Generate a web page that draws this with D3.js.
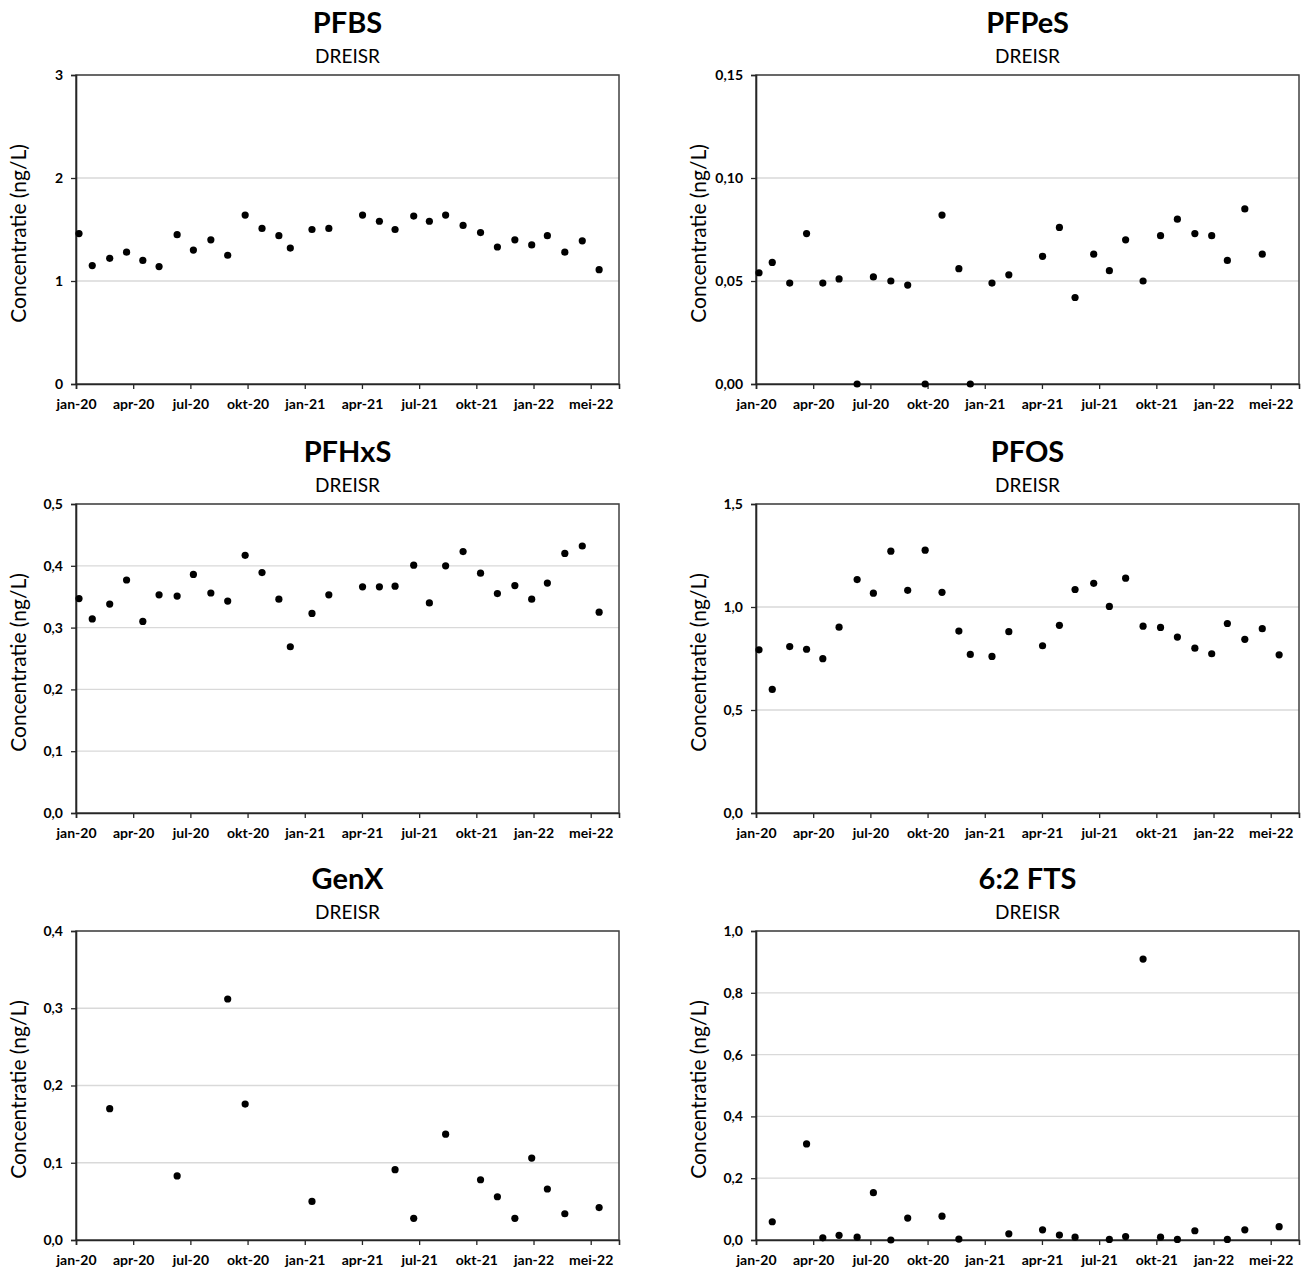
<!DOCTYPE html>
<html>
<head>
<meta charset="utf-8">
<script src="https://cdn.jsdelivr.net/npm/d3@7"></script>
<style>
  html, body { margin: 0; padding: 0; background: #fff; }
  svg { display: block; }
  text { font-family: Lato, "Open Sans", "Noto Sans", sans-serif; fill: #000; }
</style>
</head>
<body>
<svg id="chart" width="1304" height="1268"></svg>
<script>
// ---- Data ----
const sampleDates = [
  "2020-01-06","2020-01-28","2020-02-26","2020-03-25","2020-04-21","2020-05-18",
  "2020-06-17","2020-07-14","2020-08-12","2020-09-09","2020-10-08","2020-11-05",
  "2020-12-03","2020-12-22","2021-01-27","2021-02-24","2021-04-21","2021-05-19",
  "2021-06-14","2021-07-15","2021-08-10","2021-09-06","2021-10-05","2021-11-03",
  "2021-12-01","2021-12-30","2022-01-27","2022-02-22","2022-03-23","2022-04-21",
  "2022-05-19"
];

const pfbs = [1.46,1.15,1.22,1.28,1.20,1.14,1.45,1.30,1.40,1.25,1.64,1.51,1.44,1.32,1.50,1.51,
              1.64,1.58,1.50,1.63,1.58,1.64,1.54,1.47,1.33,1.40,1.35,1.44,1.28,1.39,1.11];
const pfpes = [0.054,0.059,0.049,0.073,0.049,0.051,0.000,0.052,0.050,0.048,0.000,0.082,0.056,0.000,0.049,0.053,
               0.062,0.076,0.042,0.063,0.055,0.070,0.050,0.072,0.080,0.073,0.072,0.060,0.085,0.063,null];
const pfhxs = [0.347,0.314,0.338,0.377,0.310,0.353,0.351,0.386,0.356,0.343,0.417,0.389,0.346,0.269,0.323,0.353,
               0.366,0.366,0.367,0.401,0.340,0.400,0.423,0.388,0.355,0.368,0.346,0.372,0.420,0.432,0.325];
const pfos = [0.792,0.600,0.808,0.795,0.749,0.902,1.133,1.067,1.271,1.081,1.276,1.071,0.883,0.770,0.760,0.880,
              0.812,0.911,1.085,1.115,1.003,1.140,0.907,0.901,0.854,0.800,0.773,0.920,0.843,0.895,0.768];
const genx = [null,null,0.170,null,null,null,0.083,null,null,0.312,0.176,null,null,null,0.050,null,
              null,null,0.091,0.028,null,0.137,null,0.078,0.056,0.028,0.106,0.066,0.034,null,0.042];
const fts62 = [null,0.059,null,0.311,0.007,0.015,0.009,0.153,0.000,0.071,null,0.077,0.003,null,null,0.020,
               0.033,0.016,0.009,null,0.002,0.011,0.909,0.009,0.002,0.030,null,0.002,0.033,null,0.043];

const xTickLabels = ["jan-20","apr-20","jul-20","okt-20","jan-21","apr-21","jul-21","okt-21","jan-22","mei-22"];
const xAxisStart = "2020-01-01";
const xTickStepDays = 95;
const xAxisSpanDays = 902;

const yTicksPFBS  = [0, 1, 2, 3];
const yTicksPFPeS = [0, 0.05, 0.10, 0.15];
const yTicksPFHxS = [0, 0.1, 0.2, 0.3, 0.4, 0.5];
const yTicksPFOS  = [0, 0.5, 1.0, 1.5];
const yTicksGenX  = [0, 0.1, 0.2, 0.3, 0.4];
const yTicks62FTS = [0, 0.2, 0.4, 0.6, 0.8, 1.0];

const titles = ["PFBS", "PFPeS", "PFHxS", "PFOS", "GenX", "6:2 FTS"];
const subtitle = "DREISR";
const yLabel = "Concentratie (ng/L)";

// ---- Layout ----
const panels = [
  { title: titles[0], values: pfbs,  yTicks: yTicksPFBS,  dec: 0 },
  { title: titles[1], values: pfpes, yTicks: yTicksPFPeS, dec: 2 },
  { title: titles[2], values: pfhxs, yTicks: yTicksPFHxS, dec: 1 },
  { title: titles[3], values: pfos,  yTicks: yTicksPFOS,  dec: 1 },
  { title: titles[4], values: genx,  yTicks: yTicksGenX,  dec: 1 },
  { title: titles[5], values: fts62, yTicks: yTicks62FTS, dec: 1 }
];

const colLeft = [76, 756];
const rowTop = [75, 504, 931];
const plotW = 543, plotH = 309;

const parse = d3.timeParse("%Y-%m-%d");
const start = parse(xAxisStart);
const end = d3.timeDay.offset(start, xAxisSpanDays);
const tickDates = xTickLabels.map((_, i) => d3.timeDay.offset(start, i * xTickStepDays));
const dates = sampleDates.map(parse);

const nl = d3.formatLocale({ decimal: ",", thousands: ".", grouping: [3], currency: ["€", ""] });

const svg = d3.select("#chart");
svg.append("rect").attr("width", 1304).attr("height", 1268).attr("fill", "#fff");

panels.forEach((p, i) => {
  const col = i % 2, row = Math.floor(i / 2);
  const left = colLeft[col], top = rowTop[row];
  const g = svg.append("g").attr("transform", `translate(${left},${top})`);

  const x = d3.scaleTime().domain([start, end]).range([0, plotW]);
  const y = d3.scaleLinear().domain([0, d3.max(p.yTicks)]).range([plotH, 0]);
  const fmt = nl.format(`.${p.dec}f`);

  // gridlines
  g.append("g").selectAll("line").data(p.yTicks.filter(t => t > 0))
    .join("line")
    .attr("x1", 0).attr("x2", plotW)
    .attr("y1", d => y(d)).attr("y2", d => y(d))
    .attr("stroke", "#d9d9d9").attr("stroke-width", 1.3);

  // frame
  g.append("rect").attr("x", 0).attr("y", 0).attr("width", plotW).attr("height", plotH)
    .attr("fill", "none").attr("stroke", "#404040").attr("stroke-width", 1.5);

  // y axis
  const yAxis = d3.axisLeft(y).tickValues(p.yTicks).tickFormat(fmt).tickSize(5).tickPadding(8);
  const ya = g.append("g").call(yAxis);
  ya.select(".domain").attr("stroke", "#262626").attr("stroke-width", 1.6);
  ya.selectAll(".tick line").attr("stroke", "#262626").attr("stroke-width", 1.3);
  ya.selectAll(".tick text").attr("font-size", 14).attr("font-weight", 700)
    .attr("font-family", "Lato, 'Open Sans', sans-serif").attr("fill", "#000");

  // x axis
  const xAxis = d3.axisBottom(x).tickValues(tickDates)
    .tickFormat((d, k) => xTickLabels[k]).tickSize(5).tickPadding(10);
  const xa = g.append("g").attr("transform", `translate(0,${plotH})`).call(xAxis);
  xa.select(".domain").attr("stroke", "#262626").attr("stroke-width", 1.6);
  xa.selectAll(".tick line").attr("stroke", "#262626").attr("stroke-width", 1.3);
  xa.selectAll(".tick text").attr("font-size", 14).attr("font-weight", 700)
    .attr("font-family", "Lato, 'Open Sans', sans-serif").attr("fill", "#000");

  // points
  const pts = dates.map((d, k) => ({ d, v: p.values[k] })).filter(o => o.v !== null);
  g.append("g").selectAll("circle").data(pts).join("circle")
    .attr("cx", o => x(o.d)).attr("cy", o => y(o.v)).attr("r", 3.6).attr("fill", "#000");

  // titles
  g.append("text").attr("x", plotW / 2).attr("y", -42).attr("text-anchor", "middle")
    .attr("font-size", 29).attr("font-weight", 700).text(p.title);
  g.append("text").attr("x", plotW / 2).attr("y", -12).attr("text-anchor", "middle")
    .attr("font-size", 19).text(subtitle);

  // y label
  g.append("text")
    .attr("transform", `translate(-50,${plotH / 2 + 4}) rotate(-90)`)
    .attr("text-anchor", "middle").attr("font-size", 21).text(yLabel);
});
</script>
</body>
</html>
